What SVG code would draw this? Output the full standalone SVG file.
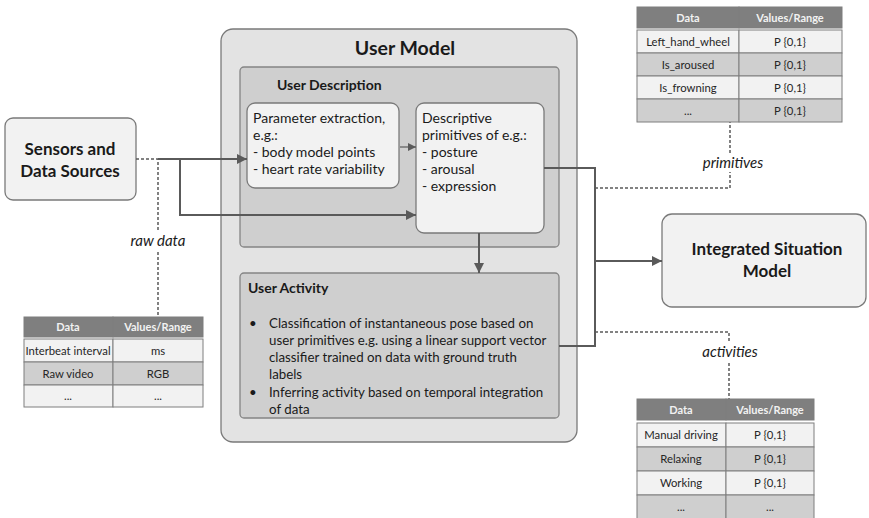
<svg xmlns="http://www.w3.org/2000/svg" width="869" height="518" viewBox="0 0 869 518">
  <defs>
    <marker id="arrow" viewBox="0 0 10 10" refX="10" refY="5" markerWidth="10" markerHeight="10" markerUnits="userSpaceOnUse" orient="auto">
      <path d="M0,0 L10,5 L0,10 z" fill="#5a5a5a"/>
    </marker>
    <marker id="arrowSmall" viewBox="0 0 10 10" refX="10" refY="5" markerWidth="8" markerHeight="8" markerUnits="userSpaceOnUse" orient="auto">
      <path d="M0,0 L10,5 L0,10 z" fill="#5a5a5a"/>
    </marker>
  </defs>
  <style>
    text { font-family: Lato, "Open Sans", "Liberation Sans", sans-serif; fill: #1a1a1a; }
    .box { fill: #f2f2f2; stroke: #7a7a7a; stroke-width: 1.3; }
    .outer { fill: #e3e3e3; stroke: #7a7a7a; stroke-width: 1.3; }
    .inner { fill: #cfcfcf; stroke: #858585; stroke-width: 1.3; }
    .big { font-size: 17px; font-weight: bold; text-anchor: middle; }
    .title { font-size: 19.5px; font-weight: bold; text-anchor: middle; }
    .sub { font-size: 14px; font-weight: bold; }
    .body { font-size: 14px; }
    .act { font-size: 13.3px; }
    .lbl { font-size: 15px; font-style: italic; text-anchor: middle; }
    .conn { fill: none; stroke: #5a5a5a; stroke-width: 2; }
    .thin { fill: none; stroke: #5a5a5a; stroke-width: 1.2; }
    .dot { fill: none; stroke: #5a5a5a; stroke-width: 1.5; stroke-dasharray: 3 2; }
    .th { fill: #7f7f7f; stroke: #7f7f7f; stroke-width: 1; }
    .tl { fill: #f2f2f2; stroke: #7f7f7f; stroke-width: 1; }
    .tg { fill: #cfcfcf; stroke: #7f7f7f; stroke-width: 1; }
    .hd { font-size: 11px; font-weight: bold; fill: #f2f2f2; text-anchor: middle; }
    .td { font-size: 11.3px; text-anchor: middle; fill: #262626; }
  </style>

  <g id="sensors">
    <rect class="box" x="5" y="118" width="131" height="82" rx="8"/>
    <text class="big" x="70" y="155">Sensors and</text>
    <text class="big" x="70" y="177">Data Sources</text>
  </g>

  <g id="user-model">
    <rect class="outer" x="221" y="29" width="356" height="413" rx="12"/>
    <text class="title" x="405" y="55">User Model</text>
  </g>

  <g id="user-description">
    <rect class="inner" x="240" y="67" width="319" height="180" rx="4"/>
    <text class="sub" x="277" y="90">User Description</text>
  </g>

  <g id="parameter-extraction">
    <rect class="box" x="247" y="103" width="152" height="85" rx="8"/>
    <text class="body" x="253" y="123">Parameter extraction,</text>
    <text class="body" x="253" y="140">e.g.:</text>
    <text class="body" x="253" y="157">- body model points</text>
    <text class="body" x="253" y="174">- heart rate variability</text>
  </g>

  <g id="descriptive-primitives">
    <rect class="box" x="416" y="103" width="128" height="130" rx="8"/>
    <text class="body" x="422" y="123">Descriptive</text>
    <text class="body" x="422" y="140">primitives of e.g.:</text>
    <text class="body" x="422" y="157">- posture</text>
    <text class="body" x="422" y="174">- arousal</text>
    <text class="body" x="422" y="191">- expression</text>
  </g>

  <g id="user-activity">
    <rect class="inner" x="240" y="273" width="319" height="145" rx="4"/>
    <text class="sub" x="248" y="293">User Activity</text>
    <text class="act" x="249" y="328">•</text>
    <text class="act" x="269" y="328">Classification of instantaneous pose based on</text>
    <text class="act" x="269" y="345">user primitives e.g. using a linear support vector</text>
    <text class="act" x="269" y="362">classifier trained on data with ground truth</text>
    <text class="act" x="269" y="379">labels</text>
    <text class="act" x="249" y="397">•</text>
    <text class="act" x="269" y="397">Inferring activity based on temporal integration</text>
    <text class="act" x="269" y="414">of data</text>
  </g>

  <g id="integrated-situation-model">
    <rect class="box" x="662" y="214" width="204" height="93" rx="10"/>
    <text class="big" x="767" y="255">Integrated Situation</text>
    <text class="big" x="767" y="277">Model</text>
  </g>

  <!-- connectors, drawn over the container boxes -->
  <g id="connectors">
    <!-- sensors to parameter extraction and descriptive primitives -->
    <path class="conn" d="M158,159 L247,159" marker-end="url(#arrow)"/>
    <path class="conn" d="M180,159 L180,215 L416,215" marker-end="url(#arrow)"/>
    <!-- raw data tap -->
    <path class="dot" d="M136,159 L158,159 L158,317"/>
    <!-- parameter extraction to descriptive primitives -->
    <path class="thin" d="M400,147 L416,147" marker-end="url(#arrowSmall)"/>
    <!-- descriptive primitives to user activity -->
    <path class="conn" d="M479,233 L479,273" marker-end="url(#arrow)"/>
    <!-- bus to integrated situation model -->
    <path class="conn" d="M544,168 L595,168 L595,346 L559,346"/>
    <path class="conn" d="M595,261 L662,261" marker-end="url(#arrow)"/>
    <!-- primitives / activities taps -->
    <path class="dot" d="M595,188 L730,188 L730,122"/>
    <path class="dot" d="M595,332 L729,332 L729,399"/>
  </g>

  <!-- edge labels -->
  <g id="labels">
    <rect x="126" y="232" width="64" height="18" fill="#ffffff"/>
    <text class="lbl" x="158" y="246">raw data</text>
    <rect x="695" y="154" width="76" height="18" fill="#ffffff"/>
    <text class="lbl" x="733" y="168">primitives</text>
    <rect x="696" y="343" width="68" height="18" fill="#ffffff"/>
    <text class="lbl" x="730" y="357">activities</text>
  </g>

  <!-- raw data table -->
  <g id="raw-data-table">
    <rect class="th" x="24" y="317" width="89" height="20"/>
    <rect class="th" x="113" y="317" width="90" height="20"/>
    <text class="hd" x="68" y="331">Data</text>
    <text class="hd" x="158" y="331">Values/Range</text>
    <rect class="tl" x="24" y="339" width="89" height="23"/>
    <rect class="tl" x="113" y="339" width="90" height="23"/>
    <text class="td" x="68" y="355">Interbeat interval</text>
    <text class="td" x="158" y="355">ms</text>
    <rect class="tg" x="24" y="362" width="89" height="23"/>
    <rect class="tg" x="113" y="362" width="90" height="23"/>
    <text class="td" x="68" y="378">Raw video</text>
    <text class="td" x="158" y="378">RGB</text>
    <rect class="tl" x="24" y="385" width="89" height="22"/>
    <rect class="tl" x="113" y="385" width="90" height="22"/>
    <text class="td" x="68" y="400">...</text>
    <text class="td" x="158" y="400">...</text>
  </g>

  <!-- primitives table -->
  <g id="primitives-table">
    <rect class="th" x="637" y="7" width="102" height="21"/>
    <rect class="th" x="739" y="7" width="103" height="21"/>
    <text class="hd" x="688" y="22">Data</text>
    <text class="hd" x="790" y="22">Values/Range</text>
    <rect class="tl" x="637" y="30" width="102" height="23"/>
    <rect class="tl" x="739" y="30" width="103" height="23"/>
    <text class="td" x="688" y="46">Left_hand_wheel</text>
    <text class="td" x="790" y="46">P {0,1}</text>
    <rect class="tg" x="637" y="53" width="102" height="23"/>
    <rect class="tg" x="739" y="53" width="103" height="23"/>
    <text class="td" x="688" y="69">Is_aroused</text>
    <text class="td" x="790" y="69">P {0,1}</text>
    <rect class="tl" x="637" y="76" width="102" height="23"/>
    <rect class="tl" x="739" y="76" width="103" height="23"/>
    <text class="td" x="688" y="92">Is_frowning</text>
    <text class="td" x="790" y="92">P {0,1}</text>
    <rect class="tg" x="637" y="99" width="102" height="23"/>
    <rect class="tg" x="739" y="99" width="103" height="23"/>
    <text class="td" x="688" y="115">...</text>
    <text class="td" x="790" y="115">P {0,1}</text>
  </g>

  <!-- activities table -->
  <g id="activities-table">
    <rect class="th" x="637" y="399" width="89" height="21"/>
    <rect class="th" x="726" y="399" width="88" height="21"/>
    <text class="hd" x="681" y="414">Data</text>
    <text class="hd" x="770" y="414">Values/Range</text>
    <rect class="tl" x="637" y="423" width="89" height="24"/>
    <rect class="tl" x="726" y="423" width="88" height="24"/>
    <text class="td" x="681" y="439">Manual driving</text>
    <text class="td" x="770" y="439">P {0,1}</text>
    <rect class="tg" x="637" y="447" width="89" height="24"/>
    <rect class="tg" x="726" y="447" width="88" height="24"/>
    <text class="td" x="681" y="463">Relaxing</text>
    <text class="td" x="770" y="463">P {0,1}</text>
    <rect class="tl" x="637" y="471" width="89" height="24"/>
    <rect class="tl" x="726" y="471" width="88" height="24"/>
    <text class="td" x="681" y="487">Working</text>
    <text class="td" x="770" y="487">P {0,1}</text>
    <rect class="tg" x="637" y="495" width="89" height="24"/>
    <rect class="tg" x="726" y="495" width="88" height="24"/>
    <text class="td" x="681" y="511">...</text>
    <text class="td" x="770" y="511">...</text>
  </g>
</svg>
